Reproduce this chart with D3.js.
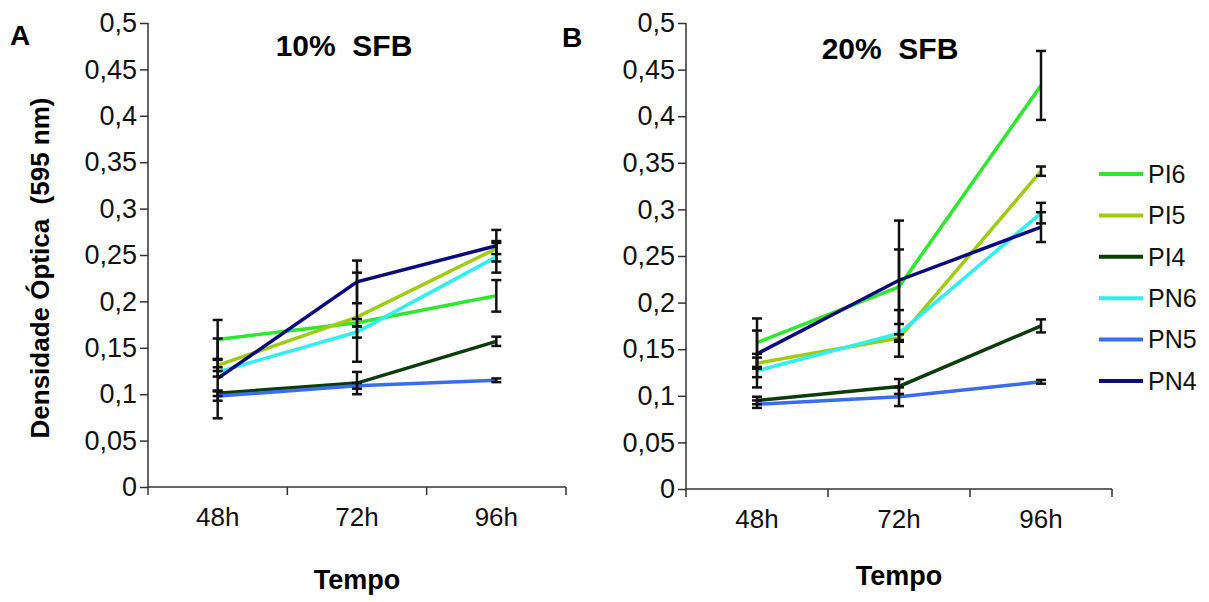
<!DOCTYPE html>
<html>
<head>
<meta charset="utf-8">
<script src="https://cdn.jsdelivr.net/npm/d3@7"></script>
<style>
  body { margin: 0; background: #fff; }
  svg { display: block; font-family: "Liberation Sans", Arial, sans-serif; }
  .axis path, .axis line { stroke: #333; stroke-width: 1.5; }
  .axis text { fill: #111; }
</style>
</head>
<body>
<div id="chart"></div>
<script>
// categories and tick labels
var times = ["48h", "72h", "96h"];
var yTicks = [0, 0.05, 0.1, 0.15, 0.2, 0.25, 0.3, 0.35, 0.4, 0.45, 0.5];
var seriesNames = ["PI6", "PI5", "PI4", "PN6", "PN5", "PN4"];
var seriesColors = ["#2de82d", "#9fcc10", "#0b3d0b", "#2ef0f0", "#3a6cf0", "#0a0a80"];

// 10% SFB: mean values per series (48h, 72h, 96h)
var sfb10 = [
  [0.159, 0.177, 0.206],
  [0.131, 0.183, 0.257],
  [0.101, 0.112, 0.157],
  [0.124, 0.167, 0.248],
  [0.098, 0.109, 0.115],
  [0.117, 0.221, 0.260]
];
var sfb10Err = [
  [0.021, 0.004, 0.017],
  [0.006, 0.048, 0.006],
  [0.003, 0.012, 0.005],
  [0.005, 0.006, 0.017],
  [0.005, 0.003, 0.002],
  [0.043, 0.023, 0.017]
];

// 20% SFB
var sfb20 = [
  [0.157, 0.217, 0.433],
  [0.135, 0.162, 0.341],
  [0.095, 0.110, 0.175],
  [0.127, 0.167, 0.296],
  [0.091, 0.099, 0.115],
  [0.145, 0.224, 0.281]
];
var sfb20Err = [
  [0.026, 0.040, 0.037],
  [0.006, 0.004, 0.005],
  [0.004, 0.008, 0.007],
  [0.018, 0.025, 0.011],
  [0.004, 0.010, 0.002],
  [0.025, 0.064, 0.016]
];

var svg = d3.select("#chart").append("svg")
    .attr("width", 1209)
    .attr("height", 602);

function drawPanel(cfg) {
  var x = d3.scaleBand().domain(times).range([cfg.left, cfg.right]);
  var y = d3.scaleLinear().domain([0, 0.5]).range([cfg.bottom, cfg.top]);
  var cx = function(t) { return x(t) + x.bandwidth() / 2; };

  var g = svg.append("g");

  // y axis
  var yAxis = d3.axisLeft(y)
      .tickValues(yTicks)
      .tickSize(8)
      .tickPadding(3)
      .tickFormat(function(d) { return String(d).replace(".", ","); });
  g.append("g")
      .attr("class", "axis")
      .attr("transform", "translate(" + cfg.left + ",0)")
      .call(yAxis)
      .call(function(a) {
        a.select(".domain").attr("d", "M0," + cfg.top + "V" + cfg.bottom);
        a.selectAll("text").attr("font-size", 27);
      });

  // x axis: labels centred, tick marks at category boundaries
  var xAxis = d3.axisBottom(x).tickSize(0).tickPadding(21);
  var xa = g.append("g")
      .attr("class", "axis")
      .attr("transform", "translate(0," + cfg.bottom + ")")
      .call(xAxis);
  xa.selectAll("text").attr("font-size", 26);
  xa.select(".domain").attr("d", "M" + cfg.left + ",0H" + cfg.right);
  xa.selectAll(".bound")
      .data(times.map(function(t) { return x(t); }).concat([cfg.right]))
      .enter().append("line")
      .attr("class", "bound")
      .attr("x1", function(d) { return d; })
      .attr("x2", function(d) { return d; })
      .attr("y1", 0)
      .attr("y2", 8);

  // axis title
  g.append("text")
      .attr("x", (cfg.left + cfg.right) / 2)
      .attr("y", cfg.bottom + cfg.tempoDy)
      .attr("text-anchor", "middle")
      .attr("font-size", 27)
      .attr("font-weight", "bold")
      .text("Tempo");

  // panel title
  g.append("text")
      .attr("x", cfg.titleX)
      .attr("y", cfg.titleY)
      .attr("text-anchor", "middle")
      .attr("font-size", 30)
      .attr("font-weight", "bold")
      .attr("xml:space", "preserve")
      .text(cfg.title);

  g.append("text")
      .attr("x", cfg.letterX)
      .attr("y", cfg.letterY)
      .attr("font-size", 28)
      .attr("font-weight", "bold")
      .text(cfg.letter);

  // lines
  var line = d3.line()
      .x(function(d, i) { return cx(times[i]); })
      .y(function(d) { return y(d); });

  g.selectAll(".series")
      .data(cfg.values)
      .enter().append("path")
      .attr("class", "series")
      .attr("d", line)
      .attr("fill", "none")
      .attr("stroke", function(d, i) { return seriesColors[i]; })
      .attr("stroke-width", 3.5);

  // error bars
  var bars = [];
  cfg.values.forEach(function(s, si) {
    s.forEach(function(v, ti) {
      bars.push({ t: times[ti], v: v, e: cfg.errors[si][ti] });
    });
  });
  var eb = g.selectAll(".err").data(bars).enter().append("g").attr("class", "err")
      .attr("stroke", "#111").attr("stroke-width", 2.5);
  eb.append("line")
      .attr("x1", function(d) { return cx(d.t); })
      .attr("x2", function(d) { return cx(d.t); })
      .attr("y1", function(d) { return y(d.v - d.e); })
      .attr("y2", function(d) { return y(d.v + d.e); });
  eb.append("line")
      .attr("x1", function(d) { return cx(d.t) - 5; })
      .attr("x2", function(d) { return cx(d.t) + 5; })
      .attr("y1", function(d) { return y(d.v - d.e); })
      .attr("y2", function(d) { return y(d.v - d.e); });
  eb.append("line")
      .attr("x1", function(d) { return cx(d.t) - 5; })
      .attr("x2", function(d) { return cx(d.t) + 5; })
      .attr("y1", function(d) { return y(d.v + d.e); })
      .attr("y2", function(d) { return y(d.v + d.e); });
}

drawPanel({ left: 148, right: 566, top: 23, bottom: 487, values: sfb10, errors: sfb10Err,
            title: "10%  SFB", titleX: 344, titleY: 56, letter: "A", letterX: 10, letterY: 45,
            tempoDy: 102 });
drawPanel({ left: 686, right: 1112, top: 23, bottom: 489, values: sfb20, errors: sfb20Err,
            title: "20%  SFB", titleX: 890, titleY: 59, letter: "B", letterX: 562, letterY: 47,
            tempoDy: 96 });

// y axis label (panel A)
svg.append("text")
    .attr("transform", "translate(49,268) rotate(-90)")
    .attr("text-anchor", "middle")
    .attr("font-size", 26)
    .attr("font-weight", "bold")
    .attr("xml:space", "preserve")
    .text("Densidade Óptica  (595 nm)");

// legend
var legend = svg.append("g").attr("transform", "translate(1099,174)");
var items = legend.selectAll(".item").data(seriesNames).enter().append("g")
    .attr("transform", function(d, i) { return "translate(0," + (i * 41.4) + ")"; });
items.append("line")
    .attr("x1", 0).attr("x2", 44)
    .attr("stroke", function(d, i) { return seriesColors[i]; })
    .attr("stroke-width", 4);
items.append("text")
    .attr("x", 49)
    .attr("dy", "0.35em")
    .attr("font-size", 25)
    .attr("fill", "#111")
    .text(function(d) { return d; });
</script>
</body>
</html>
